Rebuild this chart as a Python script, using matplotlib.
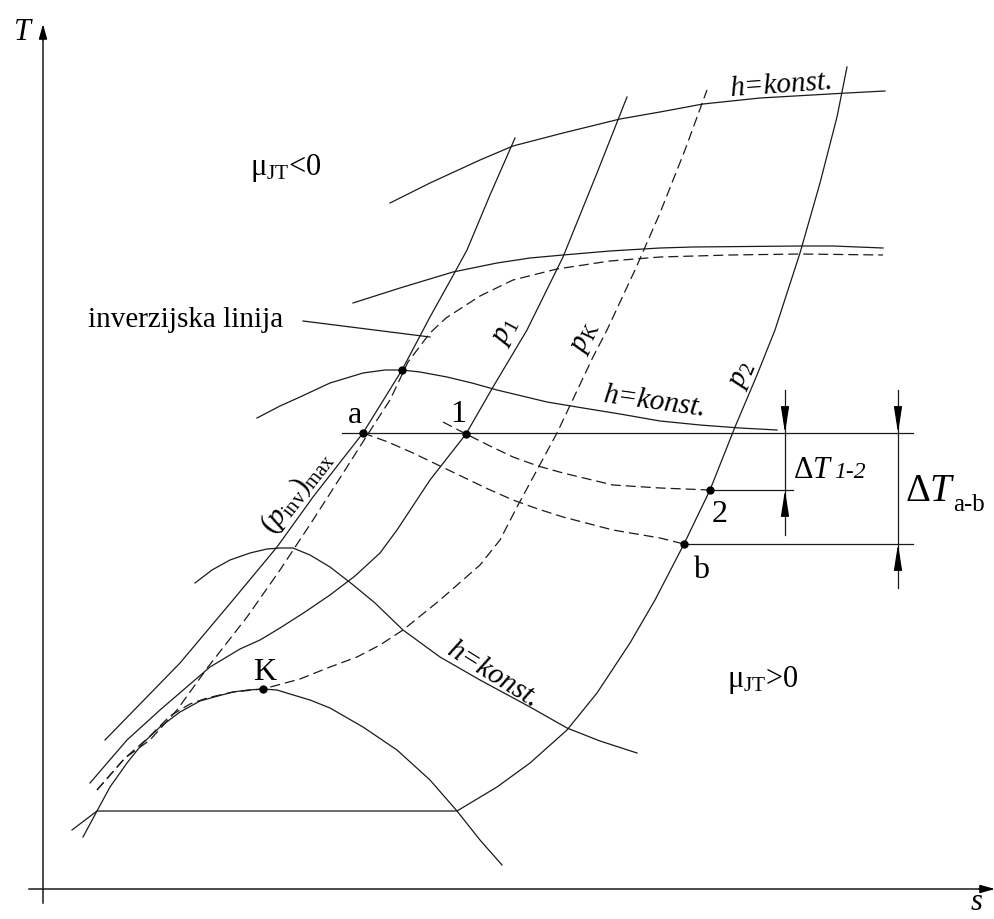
import numpy as np
import matplotlib
matplotlib.use("Agg")
import matplotlib.pyplot as plt

plt.rcParams['font.family'] = 'Liberation Serif'
plt.rcParams['mathtext.fontset'] = 'custom'
plt.rcParams['mathtext.rm'] = 'Liberation Serif'
plt.rcParams['mathtext.it'] = 'Liberation Serif:italic'

# curves of the T-s schematic (s to the right, T downward in image px)
dome_s = [83, 97, 110, 127, 143, 160, 180, 200, 218, 233, 248, 263, 277, 290, 310, 330, 363, 397, 430, 457, 480, 502]
dome_T = [837, 811, 787, 763, 743, 727, 712, 701, 696, 692, 690, 689, 690, 694, 700, 708, 727, 750, 780, 811, 840, 865]

p2_s = [72, 97, 457, 497, 530, 567, 597, 630, 655, 684, 710, 735, 757, 775, 800, 820, 837, 847]
p2_T = [830, 811, 811, 787, 763, 730, 693, 643, 600, 544, 490, 427, 375, 330, 253, 183, 117, 67]

p1_s = [90, 127, 160, 210, 240, 260, 280, 305, 330, 355, 380, 397, 430, 466, 493, 527, 563, 597, 627]
p1_T = [783, 740, 710, 667, 649, 640, 628, 612, 595, 576, 553, 530, 480, 434, 387, 330, 257, 173, 97]

pK_s = [97, 125, 148, 170, 190, 207, 233, 263, 300, 330, 357, 380, 403, 440, 480, 500, 517, 537, 557, 593, 607, 635, 660, 685, 707]
pK_T = [790, 758, 738, 716, 704, 698, 692, 689, 679, 667, 657, 645, 630, 600, 565, 540, 507, 470, 433, 357, 330, 270, 213, 150, 90]

pinv_s = [105, 180, 233, 277, 313, 363, 402, 430, 455, 467, 490, 515]
pinv_T = [740, 663, 600, 547, 497, 433, 370, 317, 272, 250, 195, 138]

inv_s = [97, 125, 150, 177, 208, 247, 280, 313, 347, 366, 390, 408, 430, 446, 463, 480, 513, 557, 610, 660, 730, 800, 883]
inv_T = [790, 758, 740, 710, 667, 617, 570, 520, 467, 437, 400, 362, 333, 318, 307, 296, 280, 269, 261, 257, 255, 254, 255]

h_top_s = [390, 430, 480, 513, 563, 620, 660, 703, 760, 847, 885]
h_top_T = [203, 183, 160, 146, 133, 119, 112, 104, 98, 93, 91]

h_2_s = [353, 400, 453, 497, 530, 563, 610, 660, 693, 800, 833, 883]
h_2_T = [303, 288, 272, 263, 258, 255, 251, 248, 247, 246, 246, 248]

h_mid_s = [257, 280, 300, 330, 363, 385, 402, 420, 447, 472, 497, 547, 583, 620, 660, 700, 740, 777]
h_mid_T = [418, 406, 397, 383, 373, 370, 370, 372, 377, 383, 390, 402, 408, 414, 421, 425, 428, 430]

h_low_s = [195, 212, 230, 250, 267, 280, 293, 310, 330, 352, 375, 403, 440, 480, 530, 567, 600, 637]
h_low_T = [583, 570, 560, 553, 549, 548, 548, 555, 567, 584, 603, 630, 657, 680, 707, 728, 741, 753]

ab_s = [363, 388, 413, 438, 463, 488, 513, 538, 563, 613, 660, 684]
ab_T = [433, 442, 453, 465, 477, 489, 500, 509, 517, 530, 538, 544]

th12_s = [443, 466, 490, 513, 538, 563, 613, 660, 710]
th12_T = [422, 434, 446, 457, 466, 473, 485, 488, 490]

state_names = ['a', '1', '2', 'b', 'K', '']
state_s = [363, 466, 710, 684, 263, 402]
state_T = [433, 434, 490, 544, 689, 370]

fig = plt.figure(figsize=(9.95, 9.19), dpi=100)
ax = fig.add_axes([0, 0, 1, 1])
ax.set_xlim(0, 995)
ax.set_ylim(919, 0)
ax.axis('off')

lc = '#1a1a1a'
lw = 0.9
dash = (0, (8, 4))

# axes with arrows
ax.plot([43, 43], [903, 34], color=lc, lw=1.1)
ax.plot([29, 984], [889, 889], color=lc, lw=1.1)
ax.annotate('', xy=(43, 24), xytext=(43, 40),
            arrowprops=dict(arrowstyle='-|>,head_length=0.9,head_width=0.25', color='k', lw=1, shrinkA=0, shrinkB=0))
ax.annotate('', xy=(995, 889), xytext=(979, 889),
            arrowprops=dict(arrowstyle='-|>,head_length=0.9,head_width=0.25', color='k', lw=1, shrinkA=0, shrinkB=0))
ax.text(22, 33, 'T', fontsize=22, style='italic', ha='center', va='center')
ax.text(977, 903, 's', fontsize=22, style='italic', ha='center', va='center')

# solid lines
for xs, ys in [(dome_s, dome_T), (p2_s, p2_T), (p1_s, p1_T), (pinv_s, pinv_T),
               (h_top_s, h_top_T), (h_2_s, h_2_T), (h_mid_s, h_mid_T), (h_low_s, h_low_T)]:
    ax.plot(xs, ys, color=lc, lw=lw, solid_joinstyle='round')

# dashed lines
for xs, ys in [(pK_s, pK_T), (inv_s, inv_T), (ab_s, ab_T), (th12_s, th12_T)]:
    ax.plot(xs, ys, color=lc, lw=lw, linestyle=dash)

# reference lines for temperature differences
ax.plot([342, 913], [433, 433], color=lc, lw=lw)
ax.plot([710, 793], [490, 490], color=lc, lw=lw)
ax.plot([684, 913], [544, 544], color=lc, lw=lw)
ax.plot([785, 785], [390, 535], color=lc, lw=lw)
ax.plot([898, 898], [390, 588], color=lc, lw=lw)
arr = dict(arrowstyle='-|>,head_length=1.6,head_width=0.25', color='k', lw=0.9, shrinkA=0, shrinkB=0)
for x, tip, frm in [(785, 433, 410), (785, 490, 513), (898, 433, 410), (898, 544, 567)]:
    ax.annotate('', xy=(x, tip), xytext=(x, frm), arrowprops=arr)

# state points
ax.plot(state_s, state_T, 'o', color='k', markersize=5)
offsets = {'a': (-8, -10), '1': (-8, -12), '2': (10, 32), 'b': (17, 34), 'K': (2, -9)}
for n, x, y in zip(state_names, state_s, state_T):
    if n:
        dx, dy = offsets[n]
        ax.text(x + dx, y + dy, n, fontsize=23, ha='center', va='baseline')

# pointer of the inversion line label
ax.plot([303, 430], [321, 337], color=lc, lw=lw)
ax.text(88, 327, 'inverzijska linija', fontsize=21, ha='left', va='baseline')

ax.text(250, 168, r'$\mathrm{μ}_{\mathrm{JT}}$<0', fontsize=22, ha='left', va='center')
ax.text(727, 680, r'$\mathrm{μ}_{\mathrm{JT}}$>0', fontsize=22, ha='left', va='center')

ax.text(782, 85, 'h=konst.', fontsize=21, style='italic', ha='center', va='center', rotation=4)
ax.text(655, 402, 'h=konst.', fontsize=21, style='italic', ha='center', va='center', rotation=-8)
ax.text(493, 675, 'h=konst.', fontsize=21, style='italic', ha='center', va='center', rotation=-32)

ax.text(506, 332, r'$p_1$', fontsize=21, ha='center', va='center', rotation=62)
ax.text(585, 338, r'$p_\mathrm{K}$', fontsize=21, ha='center', va='center', rotation=65)
ax.text(742, 375, r'$p_2$', fontsize=21, ha='center', va='center', rotation=67)
ax.text(297, 492, r'$(p_\mathrm{inv})_\mathrm{max}$', fontsize=21, ha='center', va='center', rotation=52)

ax.text(793, 478, r'$\mathrm{\Delta}T$', fontsize=22, ha='left', va='baseline')
ax.text(834, 478, '1-2', fontsize=17, style='italic', ha='left', va='baseline')
ax.text(905, 501, r'$\mathrm{\Delta}T$', fontsize=28, ha='left', va='baseline')
ax.text(953, 511, 'a-b', fontsize=18, ha='left', va='baseline')

fig.savefig('out.png', dpi=100, facecolor='white')
